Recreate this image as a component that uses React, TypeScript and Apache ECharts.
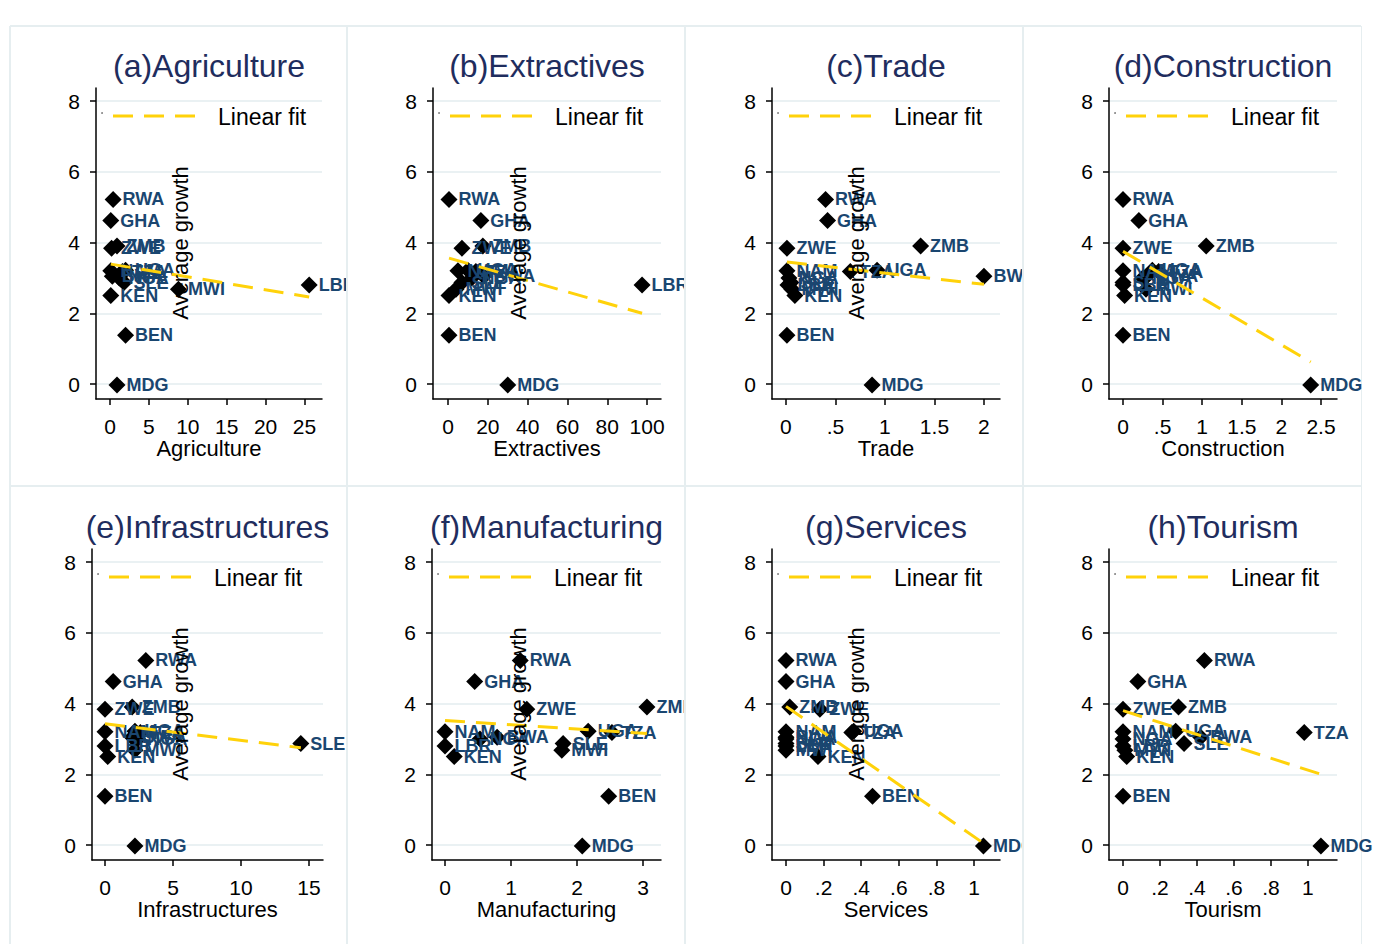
import React, { useEffect, useRef } from "react";
import * as echarts from "echarts";

// ---------- DATA ----------
const countries = ["RWA", "GHA", "ZMB", "ZWE", "NAM", "UGA", "TZA", "BWA", "NGA", "SLE", "LBR", "MWI", "KEN", "BEN", "MDG"];
const growth = [5.22, 4.62, 3.9, 3.84, 3.2, 3.22, 3.18, 3.05, 3.0, 2.87, 2.8, 2.68, 2.5, 1.38, -0.03];

const agriculture = [0.4, 0.1, 0.9, 0.2, 0.1, 2.0, 1.6, 0.3, 1.2, 1.8, 25.6, 8.8, 0.1, 2.0, 0.9];
const extractives = [0.5, 16.5, 17.5, 7, 5, 10, 14, 18, 12, 7, 97.5, 4, 0.5, 0.5, 30];
const trade = [0.4, 0.42, 1.36, 0.01, 0.01, 0.92, 0.65, 2.0, 0.03, 0.05, 0.02, 0.06, 0.09, 0.01, 0.87];
const construction = [0, 0.2, 1.05, 0, 0, 0.37, 0.45, 0.3, 0.25, 0, 0, 0.29, 0.02, 0, 2.37];
const infrastructures = [3.0, 0.6, 2.0, 0, 0, 2.2, 2.6, 2.0, 2.4, 14.4, 0, 2.2, 0.2, 0, 2.2];
const manufacturing = [1.14, 0.45, 3.06, 1.24, 0, 2.17, 2.53, 0.79, 0.53, 1.79, 0, 1.77, 0.14, 2.48, 2.08];
const services = [0, 0, 0.02, 0.18, 0, 0.36, 0.35, 0, 0, 0, 0, 0, 0.17, 0.46, 1.05];
const tourism = [0.44, 0.08, 0.3, 0, 0, 0.285, 0.98, 0.42, 0, 0.33, 0, 0.01, 0.02, 0, 1.07];

const panelTitles = ["(a)Agriculture", "(b)Extractives", "(c)Trade", "(d)Construction", "(e)Infrastructures", "(f)Manufacturing", "(g)Services", "(h)Tourism"];
const xAxisTitles = ["Agriculture", "Extractives", "Trade", "Construction", "Infrastructures", "Manufacturing", "Services", "Tourism"];
const xTicks = [
  [0, 5, 10, 15, 20, 25],
  [0, 20, 40, 60, 80, 100],
  [0, 0.5, 1, 1.5, 2],
  [0, 0.5, 1, 1.5, 2, 2.5],
  [0, 5, 10, 15],
  [0, 1, 2, 3],
  [0, 0.2, 0.4, 0.6, 0.8, 1],
  [0, 0.2, 0.4, 0.6, 0.8, 1],
];
const yTicks = [0, 2, 4, 6, 8];
// linear fit values at the smallest and the largest x of each panel
const fitStart = [3.39, 3.56, 3.45, 3.75, 3.43, 3.52, 3.92, 3.8];
const fitEnd = [2.46, 2.0, 2.82, 0.62, 2.75, 3.15, 0.05, 2.0];
const yTitle = "Average growth";
const legendLabel = "Linear fit";

// ---------- LAYOUT ----------
const xValues = [agriculture, extractives, trade, construction, infrastructures, manufacturing, services, tourism];
const layout = [
  { left: 96, top: 88, width: 226, xMin: -1.8, xMax: 27.25 },
  { left: 433, top: 88, width: 228, xMin: -7.54, xMax: 107.0 },
  { left: 772, top: 88, width: 228, xMin: -0.141, xMax: 2.162 },
  { left: 1109, top: 88, width: 228, xMin: -0.177, xMax: 2.702 },
  { left: 92, top: 549, width: 231, xMin: -0.956, xMax: 16.03 },
  { left: 432, top: 549, width: 229, xMin: -0.197, xMax: 3.273 },
  { left: 772, top: 549, width: 228, xMin: -0.0745, xMax: 1.138 },
  { left: 1109, top: 549, width: 228, xMin: -0.0757, xMax: 1.157 },
];
const COL_EDGES = [10, 347, 685, 1023, 1361];
const ROW_EDGES = [26, 486, 950];
const PLOT_H = 311;
const Y_MIN = -0.424;
const Y_MAX = 8.37;
const FONT = "'Liberation Sans', Arial, Helvetica, sans-serif";
const GOLD = "#ffd20a";
const NAVY = "#1a4670";

const fmt = (v: number) => {
  const s = String(+Number(v).toFixed(4));
  return s.startsWith("0.") ? s.slice(1) : s;
};

export default function App() {
  const ref = useRef<HTMLDivElement>(null);
  useEffect(() => {
    const chart = echarts.init(ref.current!, null, { renderer: "svg" });
    const grid: any[] = [];
    const xAxis: any[] = [];
    const yAxis: any[] = [];
    const series: any[] = [];
    const graphic: any[] = [];

    // panel frames (on top of everything)
    const frameColor = "#e6eef0";
    COL_EDGES.forEach((x, k) =>
      graphic.push({ type: "line", silent: true, z: k === 4 ? 0 : 200, shape: { x1: x, y1: 26, x2: x, y2: 950 }, style: { stroke: frameColor, lineWidth: 2 } })
    );
    [26, 486].forEach((y) =>
      graphic.push({ type: "line", silent: true, z: 200, shape: { x1: 10, y1: y, x2: 1361, y2: y }, style: { stroke: frameColor, lineWidth: 2 } })
    );

    layout.forEach((L, i) => {
      const col = i % 4;
      const row = i < 4 ? 0 : 1;
      const base = 10 * col;
      const dy = row * 461;

      // white panel background: hides label overflow of the panel to its left
      if (col > 0) {
        graphic.push({
          type: "rect",
          silent: true,
          z: base + 1,
          shape: { x: COL_EDGES[col], y: ROW_EDGES[row], width: COL_EDGES[col + 1] - COL_EDGES[col], height: ROW_EDGES[row + 1] - ROW_EDGES[row] },
          style: { fill: "#ffffff" },
        });
      }

      grid.push({ left: L.left, top: L.top, width: L.width, height: PLOT_H, containLabel: false });
      xAxis.push({
        type: "value",
        gridIndex: i,
        z: base + 2,
        min: L.xMin,
        max: L.xMax,
        name: xAxisTitles[i],
        nameLocation: "middle",
        nameGap: 35,
        nameTextStyle: { fontSize: 22, color: "#000", fontFamily: FONT },
        axisLine: { show: true, onZero: false, lineStyle: { color: "#000", width: 1.5 } },
        axisTick: { show: true, length: 6, customValues: xTicks[i], lineStyle: { color: "#000", width: 1.5 } },
        axisLabel: { customValues: xTicks[i], formatter: fmt, fontSize: 21, color: "#000", margin: 17, fontFamily: FONT },
        splitLine: { show: false },
      });
      yAxis.push({
        type: "value",
        gridIndex: i,
        z: base + 2,
        min: Y_MIN,
        max: Y_MAX,
        axisLine: { show: true, onZero: false, lineStyle: { color: "#000", width: 1.5 } },
        axisTick: { show: true, length: 6, customValues: yTicks, lineStyle: { color: "#000", width: 1.5 } },
        axisLabel: { customValues: yTicks, formatter: fmt, fontSize: 21, color: "#000", margin: 16, fontFamily: FONT },
        splitLine: { show: true, lineStyle: { color: "#eaf1f3", width: 2 } },
      });
      const xs = xValues[i];
      series.push({
        type: "scatter",
        name: "points" + i,
        xAxisIndex: i,
        yAxisIndex: i,
        symbol: "diamond",
        symbolSize: 17,
        itemStyle: { color: "#000", opacity: 1 },
        emphasis: { disabled: true },
        label: {
          show: true,
          position: "right",
          distance: 1,
          formatter: (p: any) => p.name,
          color: NAVY,
          fontWeight: "bold",
          fontSize: 18,
          fontFamily: FONT,
        },
        data: countries.map((c, k) => ({ name: c, value: [xs[k], growth[k]] })),
        z: base + 3,
      });
      const lo = Math.min(...xs);
      const hi = Math.max(...xs);
      series.push({
        type: "line",
        name: legendLabel,
        xAxisIndex: i,
        yAxisIndex: i,
        symbol: "none",
        silent: true,
        lineStyle: { color: GOLD, width: 3, type: [20, 11] },
        data: [
          [lo, fitStart[i]],
          [hi, fitEnd[i]],
        ],
        z: base + 4,
      });

      const cx = L.left + L.width / 2;
      // title
      graphic.push({
        type: "text",
        silent: true,
        z: base + 5,
        x: cx,
        y: 66 + dy,
        style: { text: panelTitles[i], fontSize: 32, fill: "#1f2d5e", fontFamily: FONT, align: "center", verticalAlign: "middle" },
      });
      // legend
      graphic.push({ type: "circle", silent: true, z: base + 5, shape: { cx: L.left + 6, cy: 113 + dy, r: 0.8 }, style: { fill: "#666" } });
      graphic.push({
        type: "line",
        silent: true,
        shape: { x1: L.left + 17, y1: 116 + dy, x2: L.left + 101, y2: 116 + dy },
        style: { stroke: GOLD, lineWidth: 3, lineDash: [20, 11] },
        z: base + 5,
      });
      graphic.push({
        type: "text",
        silent: true,
        x: L.left + 122,
        y: 117 + dy,
        style: { text: legendLabel, fontSize: 23, fill: "#000", fontFamily: FONT, align: "left", verticalAlign: "middle" },
        z: base + 5,
      });
      // overlaid y title (columns 1-3)
      if (col !== 3) {
        graphic.push({
          type: "text",
          silent: true,
          x: [180, 518, 856][col],
          y: 243 + dy,
          rotation: Math.PI / 2,
          style: { text: yTitle, fontSize: 22, fill: "#000", fontFamily: FONT, align: "center", verticalAlign: "middle" },
          z: base + 5,
        });
      }
    });

    chart.setOption({
      animation: false,
      backgroundColor: "#ffffff",
      grid,
      xAxis,
      yAxis,
      series,
      graphic,
    });
    return () => chart.dispose();
  }, []);
  return <div ref={ref} style={{ position: "absolute", left: 0, top: 0, width: 1379, height: 944, background: "#fff" }} />;
}
